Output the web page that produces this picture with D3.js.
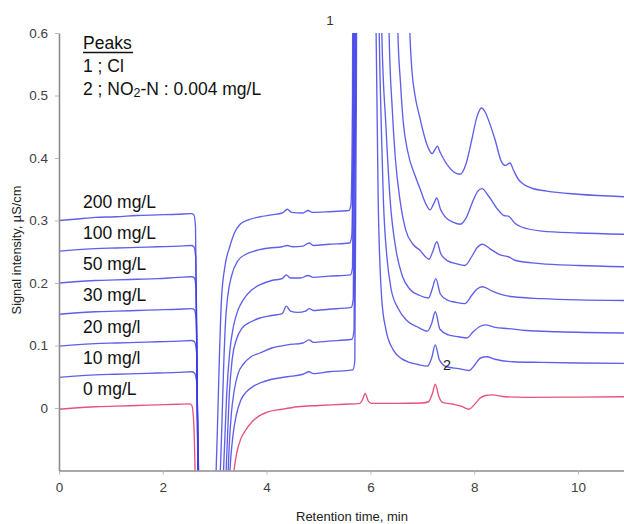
<!DOCTYPE html>
<html>
<head>
<meta charset="utf-8">
<script src="https://cdn.jsdelivr.net/npm/d3@7/dist/d3.min.js"></script>
<style>
  body { margin: 0; background: #fff; }
  svg { display: block; font-family: "Liberation Sans", Arial, sans-serif; }
</style>
</head>
<body>
<script>
// chromatograms, [retention time (min), signal (uS/cm)]; values beyond the axes are off-scale parts
var sig0 = [[0,-0.002],[0.3,0.0],[0.7,0.002],[1.1,0.003],[1.5,0.004],[1.9,0.005],[2.3,0.006],[2.52,0.0065],[2.56,0.004],[2.6,-0.03],[2.64,-0.15],[2.9,-0.3],[3.3,-0.2],[3.35,-0.12],[3.38,-0.095],[3.43,-0.07],[3.5,-0.05],[3.6,-0.035],[3.7,-0.024],[3.85,-0.013],[4.0,-0.007],[4.3,-0.002],[4.6,0.002],[5.0,0.004],[5.5,0.006],[5.8,0.0075],[5.85,0.014],[5.9,0.0235],[5.96,0.011],[6.02,0.0075],[6.5,0.0075],[7.0,0.008],[7.12,0.01],[7.19,0.022],[7.25,0.038],[7.32,0.018],[7.4,0.0085],[7.6,0.006],[7.75,0.003],[7.9,-0.002],[8.0,0.005],[8.11,0.0155],[8.22,0.02],[8.34,0.021],[8.6,0.018],[9,0.017],[10,0.0175],[10.9,0.018]];

var sig10 = [[0,0.049],[0.3,0.051],[0.7,0.053],[1.1,0.054],[1.5,0.055],[1.9,0.056],[2.3,0.057],[2.56,0.058],[2.61,0.056],[2.655,0.04],[2.68,-0.06],[2.705,-0.15],[2.95,-0.3],[3.24,-0.2],[3.28,-0.12],[3.31,-0.08],[3.35,-0.045],[3.42,-0.01],[3.5,0.012],[3.6,0.025],[3.75,0.035],[3.87,0.04],[4.1,0.046],[4.4,0.05],[4.7,0.054],[4.82,0.058],[4.9,0.055],[5.2,0.058],[5.66,0.061],[5.7,0.075],[5.73,0.5],[5.75,1.2],[5.9,3],[6.03,1.5],[6.11,0.6],[6.15,0.333],[6.22,0.173],[6.3,0.125],[6.44,0.093],[6.6,0.079],[6.72,0.074],[6.9,0.07],[7.1,0.067],[7.18,0.08],[7.25,0.101],[7.33,0.077],[7.47,0.066],[7.7,0.063],[7.9,0.06],[8.02,0.07],[8.12,0.08],[8.24,0.082],[8.4,0.078],[8.75,0.074],[9.3,0.073],[10,0.072],[10.9,0.0715]];

var sig20 = [[0,0.099],[0.3,0.101],[0.7,0.103],[1.1,0.104],[1.5,0.105],[1.9,0.106],[2.3,0.107],[2.56,0.108],[2.61,0.106],[2.65,0.09],[2.675,-0.04],[2.7,-0.15],[2.95,-0.3],[3.21,-0.2],[3.25,-0.12],[3.28,-0.06],[3.32,-0.01],[3.38,0.03],[3.45,0.055],[3.55,0.07],[3.7,0.082],[3.87,0.088],[4.1,0.096],[4.4,0.101],[4.7,0.104],[4.82,0.109],[4.9,0.105],[5.2,0.107],[5.645,0.11],[5.685,0.125],[5.715,0.5],[5.735,1.2],[5.9,3],[6.08,1.5],[6.17,0.6],[6.21,0.45],[6.25,0.333],[6.32,0.24],[6.4,0.19],[6.53,0.16],[6.7,0.14],[6.9,0.13],[7.1,0.123],[7.18,0.135],[7.25,0.154],[7.34,0.126],[7.5,0.117],[7.7,0.114],[7.86,0.112],[7.98,0.122],[8.1,0.13],[8.21,0.133],[8.4,0.129],[8.66,0.127],[9,0.124],[9.6,0.122],[10.9,0.12]];

var sig30 = [[0,0.150],[0.3,0.152],[0.7,0.154],[1.1,0.155],[1.5,0.156],[1.9,0.157],[2.3,0.158],[2.56,0.159],[2.61,0.157],[2.645,0.14],[2.67,-0.02],[2.695,-0.15],[2.95,-0.3],[3.17,-0.2],[3.21,-0.12],[3.24,-0.06],[3.28,0.02],[3.34,0.08],[3.42,0.11],[3.52,0.127],[3.7,0.138],[3.87,0.144],[4.1,0.148],[4.3,0.151],[4.38,0.163],[4.46,0.155],[4.6,0.153],[4.75,0.155],[4.82,0.159],[4.9,0.156],[5.2,0.158],[5.63,0.161],[5.67,0.175],[5.7,0.5],[5.72,1.2],[5.9,3],[6.12,1.5],[6.22,0.6],[6.3,0.45],[6.38,0.333],[6.5,0.25],[6.62,0.21],[6.76,0.19],[6.95,0.18],[7.12,0.176],[7.19,0.19],[7.26,0.207],[7.35,0.182],[7.5,0.172],[7.65,0.169],[7.82,0.167],[7.95,0.18],[8.05,0.19],[8.16,0.194],[8.35,0.187],[8.55,0.181],[8.75,0.178],[9.3,0.175],[10,0.173],[10.9,0.172]];

var sig50 = [[0,0.200],[0.3,0.202],[0.7,0.204],[1.1,0.205],[1.5,0.206],[1.9,0.207],[2.3,0.209],[2.56,0.210],[2.61,0.208],[2.64,0.19],[2.665,0.0],[2.69,-0.15],[2.95,-0.3],[3.12,-0.2],[3.16,-0.12],[3.19,-0.06],[3.23,0.02],[3.29,0.09],[3.36,0.13],[3.45,0.157],[3.55,0.173],[3.7,0.188],[3.87,0.197],[4.1,0.204],[4.3,0.207],[4.38,0.213],[4.46,0.208],[4.65,0.208],[4.8,0.212],[4.9,0.209],[5.2,0.211],[5.615,0.213],[5.655,0.225],[5.685,0.5],[5.705,1.2],[5.9,3],[6.25,1.5],[6.36,0.6],[6.42,0.48],[6.48,0.4],[6.57,0.333],[6.68,0.285],[6.82,0.262],[6.96,0.252],[7.06,0.242],[7.13,0.238],[7.2,0.25],[7.28,0.266],[7.36,0.246],[7.5,0.235],[7.65,0.231],[7.82,0.228],[7.95,0.242],[8.05,0.256],[8.16,0.262],[8.3,0.255],[8.5,0.245],[8.66,0.242],[8.8,0.236],[9.27,0.231],[10,0.228],[10.9,0.226]];

var sig100 = [[0,0.251],[0.3,0.253],[0.7,0.255],[1.1,0.256],[1.5,0.257],[1.9,0.258],[2.3,0.259],[2.55,0.260],[2.6,0.258],[2.635,0.24],[2.66,0.05],[2.685,-0.15],[2.9,-0.3],[3.06,-0.2],[3.1,-0.12],[3.13,-0.05],[3.17,0.06],[3.21,0.14],[3.25,0.178],[3.32,0.21],[3.45,0.236],[3.6,0.246],[3.8,0.252],[4.05,0.256],[4.3,0.258],[4.4,0.26],[4.5,0.258],[4.7,0.259],[4.82,0.264],[4.9,0.26],[5.2,0.262],[5.6,0.264],[5.64,0.275],[5.67,0.5],[5.69,1.2],[5.9,3],[6.4,1.5],[6.53,0.6],[6.58,0.52],[6.63,0.46],[6.72,0.41],[6.86,0.372],[6.96,0.35],[7.06,0.328],[7.15,0.317],[7.21,0.325],[7.28,0.336],[7.35,0.318],[7.45,0.305],[7.6,0.297],[7.73,0.294],[7.85,0.305],[7.97,0.33],[8.07,0.347],[8.15,0.351],[8.27,0.34],[8.45,0.318],[8.57,0.308],[8.66,0.307],[8.78,0.296],[8.9,0.29],[9.3,0.283],[10,0.28],[10.9,0.278]];

var sig200 = [[0,0.300],[0.3,0.302],[0.7,0.305],[1.1,0.306],[1.5,0.308],[1.9,0.309],[2.3,0.310],[2.55,0.311],[2.6,0.309],[2.63,0.29],[2.655,0.1],[2.68,-0.15],[2.85,-0.3],[2.98,-0.2],[3.02,-0.12],[3.05,-0.04],[3.09,0.08],[3.13,0.173],[3.2,0.228],[3.29,0.258],[3.38,0.28],[3.49,0.294],[3.65,0.301],[3.87,0.306],[4.1,0.309],[4.3,0.312],[4.4,0.318],[4.48,0.313],[4.7,0.312],[4.8,0.316],[4.88,0.313],[5.2,0.314],[5.585,0.316],[5.625,0.325],[5.655,0.5],[5.675,1.2],[5.9,3],[6.6,1.5],[6.76,0.6],[6.8,0.54],[6.86,0.5],[6.96,0.462],[7.05,0.432],[7.12,0.415],[7.19,0.407],[7.24,0.413],[7.29,0.419],[7.34,0.41],[7.4,0.4],[7.5,0.387],[7.6,0.378],[7.73,0.374],[7.84,0.39],[7.95,0.428],[8.05,0.465],[8.14,0.48],[8.22,0.472],[8.3,0.455],[8.4,0.43],[8.52,0.395],[8.6,0.388],[8.69,0.392],[8.76,0.38],[8.85,0.366],[8.95,0.358],[9.1,0.352],[9.4,0.347],[10,0.342],[10.9,0.338]];

var traces = [sig0, sig10, sig20, sig30, sig50, sig100, sig200];
var concLabels = ["0 mg/L", "10 mg/l", "20 mg/l", "30 mg/L", "50 mg/L", "100 mg/L", "200 mg/L"];
var baseOffsets = [0, 0.05, 0.10, 0.15, 0.20, 0.25, 0.30]; // where each label sits
var xTicks = [0, 2, 4, 6, 8, 10];
var yTicks = [0, 0.1, 0.2, 0.3, 0.4, 0.5, 0.6];

function init() {
    var w = 624;
    var h = 524;
    var left = 59, top = 33, bottom = 470.5;

    var xScale = d3.scaleLinear()
        .domain([0, 11])
        .range([left, left + 11 * 51.9]);

    var yScale = d3.scaleLinear()
        .domain([-0.1, 0.6])
        .range([bottom, top]);

    var svg = d3.select("body")
        .append("svg")
        .attr("width", w)
        .attr("height", h);

    svg.append("rect").attr("width", w).attr("height", h).attr("fill", "#fff");

    svg.append("clipPath")
        .attr("id", "plot")
        .append("rect")
        .attr("x", left)
        .attr("y", top)
        .attr("width", w - left)
        .attr("height", bottom - top);

    var line = d3.line()
        .x(function (d) { return xScale(d[0]); })
        .y(function (d) { return yScale(d[1]); })
        .curve(d3.curveMonotoneX);

    // blue traces, the 0 mg/L trace is red
    svg.append("g")
        .attr("clip-path", "url(#plot)")
        .selectAll("path")
        .data(traces)
        .enter()
        .append("path")
        .attr("d", line)
        .attr("fill", "none")
        .attr("stroke", function (d, i) { return i === 0 ? "#e2406c" : "#3c3ce6"; })
        .attr("stroke-opacity", function (d, i) { return i === 0 ? 0.9 : 0.82; })
        .attr("stroke-width", 1.35);

    // axes
    var xAxis = d3.axisBottom(xScale)
        .tickValues(xTicks)
        .tickSize(4)
        .tickSizeOuter(0)
        .tickPadding(8)
        .tickFormat(d3.format("d"));

    var yAxis = d3.axisLeft(yScale)
        .tickValues(yTicks)
        .tickSize(4)
        .tickSizeOuter(0)
        .tickPadding(7)
        .tickFormat(function (d) { return d === 0 ? "0" : d3.format(".1f")(d); });

    var gx = svg.append("g")
        .attr("transform", "translate(0," + bottom + ")")
        .call(xAxis);

    var gy = svg.append("g")
        .attr("transform", "translate(" + left + ",0)")
        .call(yAxis);

    [gx, gy].forEach(function (g) {
        g.select(".domain").attr("stroke", "#8c8c8c").attr("stroke-width", 1.6);
        g.selectAll(".tick line").attr("stroke", "#b8b8b8");
        g.selectAll(".tick text")
            .attr("fill", "#404040")
            .attr("font-size", 13.5)
            .attr("font-family", "Liberation Sans, Arial, sans-serif");
    });

    svg.append("text")
        .attr("x", 352)
        .attr("y", 521)
        .attr("text-anchor", "middle")
        .attr("font-size", 13)
        .attr("fill", "#222")
        .text("Retention time, min");

    svg.append("text")
        .attr("transform", "translate(21,250) rotate(-90)")
        .attr("text-anchor", "middle")
        .attr("font-size", 12.8)
        .attr("fill", "#222")
        .text("Signal intensity, µS/cm");

    // concentration labels above each trace
    svg.selectAll("text.conc")
        .data(concLabels)
        .enter()
        .append("text")
        .attr("class", "conc")
        .attr("x", 83)
        .attr("y", function (d, i) { return yScale(baseOffsets[i]) - 13; })
        .attr("font-size", 17.5)
        .attr("fill", "#111")
        .text(function (d) { return d; });

    // peak legend
    var leg = svg.append("g").attr("fill", "#111").attr("font-size", 17.5);
    leg.append("text").attr("x", 83).attr("y", 49).text("Peaks");
    leg.append("line")
        .attr("x1", 83).attr("x2", 133)
        .attr("y1", 52.5).attr("y2", 52.5)
        .attr("stroke", "#111").attr("stroke-width", 1.3);
    leg.append("text").attr("x", 83).attr("y", 72).text("1 ; Cl");
    var t2 = leg.append("text").attr("x", 83).attr("y", 95);
    t2.append("tspan").text("2 ; NO");
    t2.append("tspan").attr("font-size", 12.5).attr("dy", 1.5).text("2");
    t2.append("tspan").attr("dy", -1.5).text("-N : 0.004 mg/L");

    // peak numbers
    svg.append("text")
        .attr("x", 330).attr("y", 25)
        .attr("text-anchor", "middle")
        .attr("font-size", 13.5)
        .attr("fill", "#333")
        .text("1");

    svg.append("text")
        .attr("x", 447).attr("y", 370)
        .attr("text-anchor", "middle")
        .attr("font-size", 14.5)
        .attr("fill", "#222")
        .text("2");
}
window.onload = init;
</script>
</body>
</html>
